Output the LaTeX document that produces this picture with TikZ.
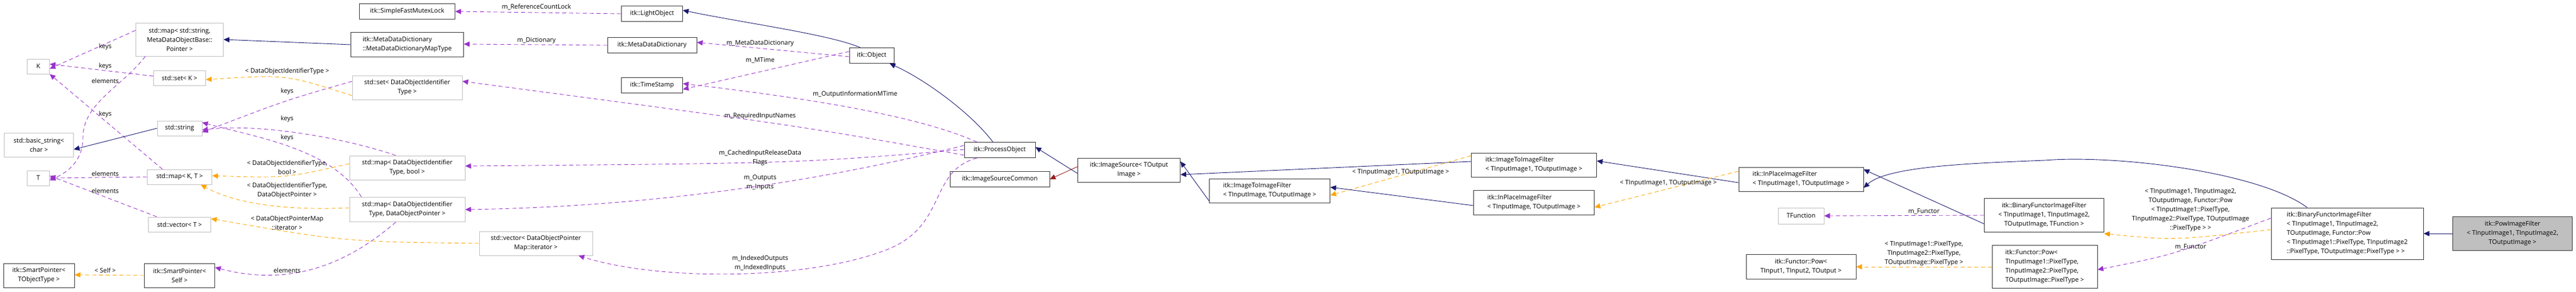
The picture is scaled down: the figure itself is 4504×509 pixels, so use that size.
\documentclass[tikz,border=0pt]{standalone}
\usepackage{fontspec}
\setmainfont{Open Sans}
\usetikzlibrary{arrows.meta}
\definecolor{navy}{RGB}{25,25,112}
\definecolor{dorch}{RGB}{153,50,204}
\definecolor{orng}{RGB}{255,165,0}
\definecolor{fbrick}{RGB}{155,30,30}
\definecolor{gbord}{RGB}{191,191,191}
\begin{document}
\begin{tikzpicture}[x=1pt,y=-1pt,
  box/.style={rectangle,fill=white,inner sep=1pt,align=center,font=\fontsize{11}{16}\selectfont},
  doc/.style={box,draw=black!80,line width=1pt},
  undoc/.style={box,draw=gbord,line width=1pt},
  lbl/.style={inner sep=0pt,align=center,font=\fontsize{11}{16}\selectfont},
  tip/.style={-{Triangle[length=10pt,width=9pt]}},
  inh/.style={tip,draw=navy,line width=0.9pt},
  priv/.style={tip,draw=fbrick,line width=0.9pt},
  use/.style={tip,draw=dorch,dash pattern=on 7pt off 5pt,line width=0.9pt},
  tpl/.style={tip,draw=orng,dash pattern=on 7pt off 5pt,line width=0.9pt}]
\useasboundingbox (0,0) rectangle (4504,509);
% left column
\node[undoc,minimum width=39,minimum height=26] (K) at (67,116) {K};
\node[undoc,minimum width=39,minimum height=26] (T) at (67,311) {T};
\node[undoc,minimum width=121,minimum height=42] (basic) at (68,253) {std::basic\_string<\\char >};
\node[doc,minimum width=124,minimum height=42] (spt) at (68,481) {itk::SmartPointer<\\TObjectType >};
\node[undoc,minimum width=153,minimum height=58] (mapstr) at (314,69) {std::map< std::string,\\MetaDataObjectBase::\\Pointer >};
\node[undoc,minimum width=91,minimum height=26] (setK) at (314,136) {std::set< K >};
\node[undoc,minimum width=78,minimum height=26] (str) at (314,224) {std::string};
\node[undoc,minimum width=113,minimum height=26] (mapKT) at (314,309) {std::map< K, T >};
\node[undoc,minimum width=109,minimum height=26] (vecT) at (314,392) {std::vector< T >};
\node[doc,minimum width=123,minimum height=42] (sps) at (314,481) {itk::SmartPointer<\\Self >};
% second column
\node[doc,minimum width=167,minimum height=27] (mutex) at (712,20) {itk::SimpleFastMutexLock};
\node[doc,minimum width=197,minimum height=43,align=left] (maptype) at (712,78) {itk::MetaDataDictionary\\::MetaDataDictionaryMapType};
\node[undoc,minimum width=192,minimum height=42] (setDO) at (712,153) {std::set< DataObjectIdentifier\\Type >};
\node[undoc,minimum width=202,minimum height=42] (mapBool) at (712,293) {std::map< DataObjectIdentifier\\Type, bool >};
\node[undoc,minimum width=202,minimum height=43] (mapDOP) at (712,366) {std::map< DataObjectIdentifier\\Type, DataObjectPointer >};
\node[undoc,minimum width=198,minimum height=42] (vecIt) at (937,425) {std::vector< DataObjectPointer\\Map::iterator >};
% third column
\node[doc,minimum width=107,minimum height=27] (light) at (1140,24) {itk::LightObject};
\node[doc,minimum width=156,minimum height=27] (mdd) at (1140,79) {itk::MetaDataDictionary};
\node[doc,minimum width=107,minimum height=27] (ts) at (1140,149) {itk::TimeStamp};
\node[doc,minimum width=78,minimum height=27] (obj) at (1524,97) {itk::Object};
\node[doc,minimum width=124,minimum height=27] (po) at (1748,262) {itk::ProcessObject};
\node[doc,minimum width=174,minimum height=27] (isc) at (1748,313) {itk::ImageSourceCommon};
\node[doc,minimum width=179,minimum height=42] (is) at (1974,297) {itk::ImageSource< TOutput\\Image >};
\node[doc,minimum width=211,minimum height=42,align=left] (i2i) at (2220,333) {itk::ImageToImageFilter\\< TInputImage, TOutputImage >};
\node[doc,minimum width=219,minimum height=42,align=left] (i2i1) at (2682,288) {itk::ImageToImageFilter\\< TInputImage1, TOutputImage >};
\node[doc,minimum width=211,minimum height=43,align=left] (ipg) at (2682,354) {itk::InPlaceImageFilter\\< TInputImage, TOutputImage >};
\node[doc,minimum width=218,minimum height=42,align=left] (ip1) at (3149,313) {itk::InPlaceImageFilter\\< TInputImage1, TOutputImage >};
\node[undoc,minimum width=80,minimum height=28] (tf) at (3149,377) {TFunction};
\node[doc,minimum width=192,minimum height=43] (fpow1) at (3149,466) {itk::Functor::Pow<\\TInput1, TInput2, TOutput >};
\node[doc,minimum width=209,minimum height=59] (bf) at (3574,376) {itk::BinaryFunctorImageFilter\\< TInputImage1, TInputImage2,\\TOutputImage, TFunction >};
\node[doc,minimum width=184,minimum height=75,align=left] (fpow) at (3575,466) {itk::Functor::Pow<\\ TInputImage1::PixelType,\\ TInputImage2::PixelType,\\ TOutputImage::PixelType >};
\node[doc,minimum width=266,minimum height=90,align=left] (bfp) at (4104,408) {itk::BinaryFunctorImageFilter\\< TInputImage1, TInputImage2,\\ TOutputImage, Functor::Pow\\< TInputImage1::PixelType, TInputImage2\\ ::PixelType, TOutputImage::PixelType > >};
\node[doc,fill=gbord,minimum width=209,minimum height=59] (pow) at (4393,408) {itk::PowImageFilter\\< TInputImage1, TInputImage2,\\TOutputImage >};
% left edges
\draw[use] ([yshift=16]mapstr.west) -- ([yshift=-4]K.east);
\draw[use] ([yshift=3]setK.west) -- ([yshift=4]K.east);
\draw[use] ([xshift=-60]mapstr.south) .. controls (215,150) and (145,180) .. (145,240) .. controls (145,280) and (120,300) .. ([yshift=-4]T.east);
\draw[use] ([xshift=-30]mapKT.north) -- (K.south east);
\draw[use] (mapKT.west) -- (T.east);
\draw[use] ([xshift=-40]vecT.north) -- ([yshift=4]T.east);
\draw[inh] (str.west) -- ([yshift=-8]basic.east);
\draw[tpl] (sps.west) -- ([yshift=1]spt.east);
\draw[inh] (maptype.west) -- (mapstr.east);
\node[lbl] at (184,82) {keys};
\node[lbl] at (184,116) {keys};
\node[lbl] at (184,141) {elements};
\node[lbl] at (184,200) {keys};
\node[lbl] at (184,303) {elements};
\node[lbl] at (184,333) {elements};
\node[lbl] at (184,472) {< Self >};
% second column edges
\draw[tpl] ([yshift=-14]setDO.west) .. controls (500,130) .. ([yshift=-3]setK.east);
\draw[use] ([yshift=11]setDO.west) .. controls (500,175) .. ([yshift=-7]str.east);
\draw[use] ([xshift=-20]mapBool.north) .. controls (600,240) and (450,215) .. ([yshift=-3]str.east);
\draw[use] ([xshift=-80]mapDOP.north) .. controls (580,260) and (450,240) .. ([yshift=10]str.east);
\draw[tpl] ([yshift=7]mapBool.west) .. controls (500,311) .. ([yshift=2]mapKT.east);
\draw[tpl] ([yshift=3]mapDOP.west) .. controls (480,369) and (400,350) .. ([xshift=-20]mapKT.south east);
\draw[tpl] (vecIt.west) .. controls (600,422) .. ([yshift=10]vecT.east);
\draw[use] ([xshift=-20]mapDOP.south) .. controls (620,450) and (520,505) .. ([yshift=14]sps.east);
\node[lbl] at (502,125) {< DataObjectIdentifierType >};
\node[lbl] at (502,160) {keys};
\node[lbl] at (502,208) {keys};
\node[lbl] at (502,241) {keys};
\node[lbl] at (502,292) {< DataObjectIdentifierType,\\bool >};
\node[lbl] at (502,333) {< DataObjectIdentifierType,\\DataObjectPointer >};
\node[lbl] at (502,389) {< DataObjectPointerMap\\::iterator >};
\node[lbl] at (502,472) {elements};
% third column edges
\draw[use] (light.west) -- (mutex.east);
\draw[use] (mdd.west) -- ([yshift=1]maptype.east);
\draw[use] ([yshift=-2]obj.west) -- ([yshift=5]mdd.east);
\draw[use] ([yshift=7]obj.west) -- ([yshift=-7]ts.east);
\draw[inh] ([xshift=-20]obj.north) .. controls (1450,60) and (1300,40) .. ([yshift=6]light.east);
\draw[inh] ([xshift=-12]po.north) .. controls (1700,200) and (1620,140) .. ([xshift=-8]obj.south east);
\draw[use] ([xshift=-40]po.north) .. controls (1600,200) and (1400,170) .. ([yshift=3]ts.east);
\draw[use] ([yshift=-9]po.west) .. controls (1400,220) .. ([yshift=11]setDO.east);
\draw[use] ([yshift=1]po.west) .. controls (1400,285) .. ([yshift=3]mapBool.east);
\draw[use] ([yshift=8]po.west) .. controls (1500,300) and (1200,360) .. (mapDOP.east);
\draw[use] ([xshift=-40]po.south) .. controls (1620,300) and (1660,400) .. (1540,440) .. controls (1400,490) and (1150,490) .. ([xshift=-25]vecIt.south east);
\node[lbl] at (938,12) {m\_ReferenceCountLock};
\node[lbl] at (938,71) {m\_Dictionary};
\node[lbl] at (1329,76) {m\_MetaDataDictionary};
\node[lbl] at (1329,105) {m\_MTime};
\node[lbl] at (1495,165) {m\_OutputInformationMTime};
\node[lbl] at (1329,203) {m\_RequiredInputNames};
\node[lbl] at (1329,276) {m\_CachedInputReleaseData\\Flags};
\node[lbl] at (1329,319) {m\_Outputs\\m\_Inputs};
\node[lbl] at (1329,460) {m\_IndexedOutputs\\m\_IndexedInputs};
% right edges
\draw[inh] ([yshift=-6]is.west) -- ([yshift=5]po.east);
\draw[priv] ([yshift=6]is.west) -- (isc.east);
\draw[inh] ([yshift=6]i2i1.west) -- ([yshift=-8]is.east);
\draw[inh] ([yshift=-18]i2i.west) -- ([yshift=15]is.east);
\draw[tpl] ([yshift=16]i2i1.west) -- ([yshift=-8]i2i.east);
\draw[inh] ([yshift=-5]ipg.west) -- ([yshift=6]i2i.east);
\draw[inh] ([yshift=-6]ip1.west) -- ([yshift=7]i2i1.east);
\draw[tpl] ([yshift=14]ip1.west) -- ([yshift=-8]ipg.east);
\draw[inh] ([xshift=-70]bfp.north) .. controls (3950,300) and (3700,270) .. (3575,280) .. controls (3450,285) and (3300,290) .. ([yshift=-15]ip1.east);
\draw[inh] ([yshift=-15]bf.west) -- ([yshift=17]ip1.east);
\draw[use] (bf.west) -- (tf.east);
\draw[tpl] ([yshift=7]bfp.west) .. controls (3800,420) .. ([yshift=-2]bf.south east);
\draw[use] ([yshift=27]bfp.west) .. controls (3800,445) .. ([yshift=-5]fpow.east);
\draw[tpl] (fpow.west) -- ([yshift=0]fpow1.east);
\draw[inh] (pow.west) -- (bfp.east);
\node[lbl] at (2449,301) {< TInputImage1, TOutputImage >};
\node[lbl] at (2917,320) {< TInputImage1, TOutputImage >};
\node[lbl] at (3364,369) {m\_Functor};
\node[lbl] at (3364,443) {< TInputImage1::PixelType,\\TInputImage2::PixelType,\\TOutputImage::PixelType >};
\node[lbl] at (3830,367) {< TInputImage1, TInputImage2,\\TOutputImage, Functor::Pow\\< TInputImage1::PixelType,\\TInputImage2::PixelType, TOutputImage\\::PixelType > >};
\node[lbl] at (3830,431) {m\_Functor};
\end{tikzpicture}
\end{document}
